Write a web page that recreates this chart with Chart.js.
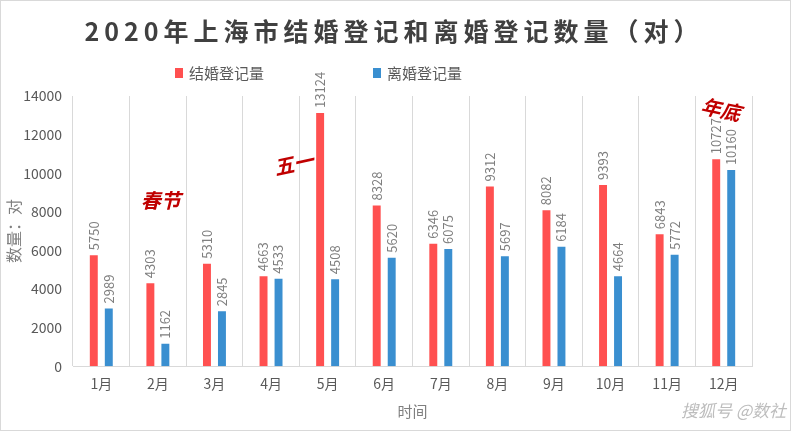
<!DOCTYPE html>
<html>
<head>
<meta charset="utf-8">
<script src="https://cdn.jsdelivr.net/npm/chart.js@4"></script>
<style>
  body { margin: 0; background: #fff; }
  #wrap { width: 794px; height: 433px; position: relative; }
</style>
</head>
<body>
<div id="wrap"><canvas id="myChart" width="794" height="433"></canvas></div>
<script>
const months = ['1月', '2月', '3月', '4月', '5月', '6月', '7月', '8月', '9月', '10月', '11月', '12月'];
const marriage = [5750, 4303, 5310, 4663, 13124, 8328, 6346, 9312, 8082, 9393, 6843, 10727];
const divorce = [2989, 1162, 2845, 4533, 4508, 5620, 6075, 5697, 6184, 4664, 5772, 10160];
const yTicks = [0, 2000, 4000, 6000, 8000, 10000, 12000, 14000];
// notes over the chart: [text, category position, value, angle in degrees]
const notes = [['春节', 1.05, 8600, 0], ['五一', 3.4, 10500, -12], ['年底', 10.95, 13300, 12]];

const FONT = '"Noto Sans CJK SC", "Noto Sans", sans-serif';
const grey = '#595959';
const lightGrey = '#7f7f7f';
const red = '#ff5050';
const blue = '#3a8fd0';

const frame = {
  id: 'frame',
  beforeDraw(chart) {
    const c = chart.ctx;
    c.save();
    c.fillStyle = '#fff';
    c.fillRect(0, 0, chart.width, chart.height);
    c.strokeStyle = '#d9d9d9';
    c.lineWidth = 1;
    c.strokeRect(0.5, 0.5, chart.width - 4, chart.height - 3);

    // title
    c.font = 'bold 25px ' + FONT;
    c.letterSpacing = '5px';
    c.fillStyle = '#404040';
    c.textAlign = 'center';
    c.textBaseline = 'middle';
    c.fillText('2020年上海市结婚登记和离婚登记数量（对）', 394, 31);
    c.letterSpacing = '0px';

    // legend
    c.font = '15px ' + FONT;
    c.textAlign = 'left';
    chart.data.datasets.forEach((ds, i) => {
      const x = [175, 373][i];
      c.fillStyle = ds.backgroundColor;
      c.fillRect(x, 68, 8, 10);
      c.fillStyle = grey;
      c.fillText(ds.label, x + 14, 73);
    });
    c.restore();
  }
};

const barLabels = {
  id: 'barLabels',
  afterDatasetsDraw(chart) {
    const c = chart.ctx;
    c.save();
    c.font = '13px ' + FONT;
    c.fillStyle = lightGrey;
    c.textAlign = 'left';
    c.textBaseline = 'middle';
    chart.data.datasets.forEach((ds, i) => {
      chart.getDatasetMeta(i).data.forEach((bar, j) => {
        c.save();
        c.translate(bar.x, bar.y - 5);
        c.rotate(-Math.PI / 2);
        c.fillText(ds.data[j], 0, 0);
        c.restore();
      });
    });

    // holiday notes
    const xs = chart.scales.x, ys = chart.scales.y;
    c.font = 'italic bold 20px ' + FONT;
    c.fillStyle = '#c00000';
    c.textAlign = 'center';
    notes.forEach(([t, p, v, a]) => {
      c.save();
      c.translate(xs.getPixelForValue(p), ys.getPixelForValue(v));
      c.rotate(a * Math.PI / 180);
      c.fillText(t, 0, 0);
      c.restore();
    });

    // watermark
    c.font = 'italic 17px ' + FONT;
    c.fillStyle = '#bdbdbd';
    c.textAlign = 'right';
    c.fillText('搜狐号 @数社', 786, 411);
    c.restore();
  }
};

new Chart(document.getElementById('myChart'), {
  type: 'bar',
  data: {
    labels: months,
    datasets: [{
      label: '结婚登记量',
      data: marriage,
      backgroundColor: red,
      categoryPercentage: 0.53,
      barPercentage: 0.53
    }, {
      label: '离婚登记量',
      data: divorce,
      backgroundColor: blue,
      categoryPercentage: 0.53,
      barPercentage: 0.53
    }]
  },
  options: {
    responsive: false,
    animation: false,
    layout: { padding: { left: 1, right: 42, top: 96, bottom: 10 } },
    plugins: {
      title: { display: false },
      legend: { display: false },
      tooltip: { enabled: false }
    },
    scales: {
      x: {
        grid: { display: true, offset: true, color: '#d9d9d9', drawTicks: false },
        border: { color: '#d9d9d9' },
        ticks: { color: grey, font: { family: FONT, size: 14 }, padding: 9 },
        title: { display: true, text: '时间', color: lightGrey, font: { family: FONT, size: 15 }, padding: { top: 1, bottom: 3 } }
      },
      y: {
        min: 0,
        max: 14000,
        afterBuildTicks(axis) { axis.ticks = yTicks.map(v => ({ value: v })); },
        afterFit(axis) { axis.width = 72; },
        grid: { display: false, drawTicks: false },
        border: { display: false },
        ticks: { color: grey, font: { family: FONT, size: 14 }, padding: 11, callback: v => String(v) },
        title: { display: true, text: '数量：对', color: lightGrey, font: { family: FONT, size: 16 }, padding: { top: 3, bottom: 2 } }
      }
    }
  },
  plugins: [frame, barLabels]
});
</script>
</body>
</html>
